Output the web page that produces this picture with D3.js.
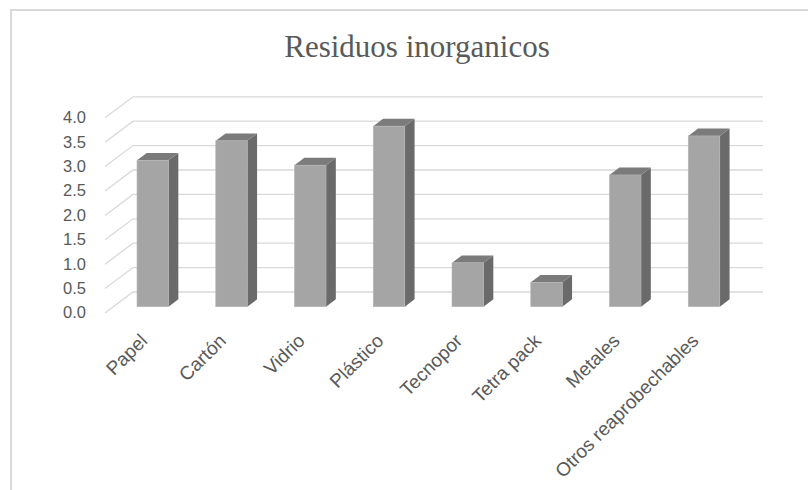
<!DOCTYPE html>
<html>
<head>
<meta charset="utf-8">
<script src="https://cdn.jsdelivr.net/npm/d3@7"></script>
<style>
  body { margin: 0; background: #fff; }
  svg { display: block; }
</style>
</head>
<body>
<svg id="chart" width="808" height="490"></svg>
<script>
// Data
const categories = ["Papel", "Cartón", "Vidrio", "Plástico", "Tecnopor", "Tetra pack", "Metales", "Otros reaprobechables"];
const values = [3.0, 3.4, 2.9, 3.7, 0.9, 0.5, 2.7, 3.5];
const yTicks = [0, 0.5, 1.0, 1.5, 2.0, 2.5, 3.0, 3.5, 4.0];
const chartTitle = "Residuos inorganicos";

var svg = d3.select("#chart");

// 3D depth offsets (front plane -> back wall)
const depthX = 28, depthY = 21;
const barFront = 0.3, barBack = 0.65;

var xScale = d3.scaleBand()
    .domain(categories)
    .range([105, 735])
    .paddingInner(0.6)
    .paddingOuter(0.3);

var yScale = d3.scaleLinear()
    .domain([0, 4])
    .range([313, 117.8]);

// project a point on the front plane back by depth d (0..1)
function proj(x, y, d) {
    return [x + d * depthX, y - d * depthY];
}

// Outer frame
svg.append("rect")
    .attr("x", 11)
    .attr("y", 10)
    .attr("width", 900)
    .attr("height", 600)
    .attr("fill", "none")
    .attr("stroke", "#d9d9d9")
    .attr("stroke-width", 2);

// Title
svg.append("text")
    .attr("x", 417)
    .attr("y", 57)
    .attr("text-anchor", "middle")
    .style("font-family", "'Liberation Serif', 'Times New Roman', serif")
    .style("font-size", "31px")
    .style("fill", "#595959")
    .text(chartTitle);

// Gridlines: side wall + back wall
var x0 = xScale.range()[0], x1 = xScale.range()[1];
var grid = svg.append("g").attr("stroke", "#d9d9d9").attr("stroke-width", 1.3).attr("fill", "none");
yTicks.forEach(function (t) {
    let a = proj(x0, yScale(t), 0), b = proj(x0, yScale(t), 1), c = proj(x1, yScale(t), 1);
    grid.append("path")
        .attr("d", `M${a[0]},${a[1]}L${b[0]},${b[1]}L${c[0]},${c[1]}`);
});

// Y tick labels
svg.append("g").selectAll("text")
    .data(yTicks)
    .join("text")
    .attr("x", 86)
    .attr("y", d => yScale(d) + 1)
    .attr("text-anchor", "end")
    .attr("dominant-baseline", "middle")
    .style("font-family", "'Liberation Sans', Arial, sans-serif")
    .style("font-size", "16.5px")
    .style("fill", "#595959")
    .text(d => d.toFixed(1));

// Bars (front, side, top faces)
var bw = xScale.bandwidth();
var ddx = (barBack - barFront) * depthX, ddy = (barBack - barFront) * depthY;
var bars = svg.append("g").selectAll("g")
    .data(categories.map((c, i) => ({ cat: c, val: values[i] })))
    .join("g");

bars.each(function (d) {
    let g = d3.select(this);
    let fl = proj(xScale(d.cat), yScale(0), barFront);
    let ft = proj(xScale(d.cat), yScale(d.val), barFront);
    let xl = fl[0], xr = fl[0] + bw, yb = fl[1], yt = ft[1];

    // side face
    g.append("path")
        .attr("d", `M${xr},${yb}L${xr},${yt}L${xr + ddx},${yt - ddy}L${xr + ddx},${yb - ddy}Z`)
        .attr("fill", "#6a6a6a");
    // top face
    g.append("path")
        .attr("d", `M${xl},${yt}L${xr},${yt}L${xr + ddx},${yt - ddy}L${xl + ddx},${yt - ddy}Z`)
        .attr("fill", "#7b7b7b");
    // front face
    g.append("rect")
        .attr("x", xl)
        .attr("y", yt)
        .attr("width", bw)
        .attr("height", yb - yt)
        .attr("fill", "#a5a5a5")
        .attr("stroke", "#b4b4b4")
        .attr("stroke-width", 0.6);
});

// X category labels, rotated
svg.append("g").selectAll("text")
    .data(categories)
    .join("text")
    .attr("text-anchor", "end")
    .attr("transform", d => `translate(${xScale(d) + bw / 2 + 4}, 342) rotate(-45)`)
    .style("font-family", "'Liberation Sans', Arial, sans-serif")
    .style("font-size", "19px")
    .style("fill", "#595959")
    .text(d => d);
</script>
</body>
</html>
